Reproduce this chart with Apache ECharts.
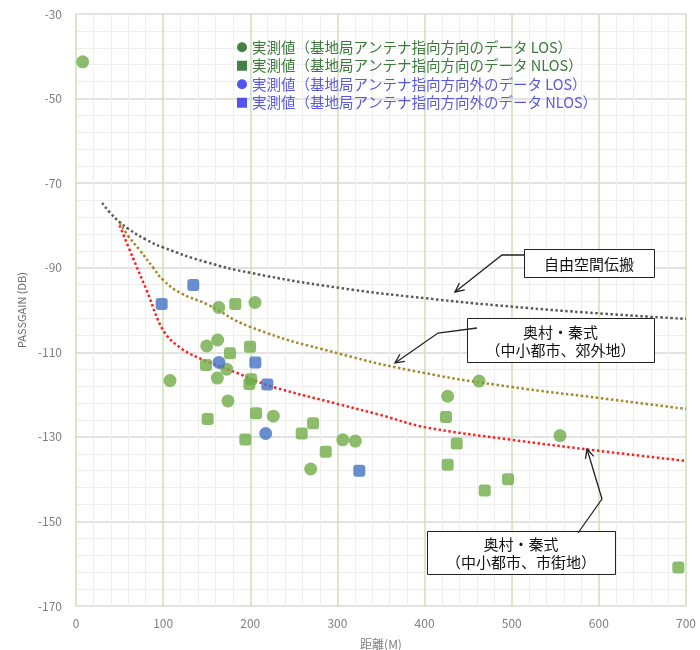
<!DOCTYPE html>
<html>
<head>
<meta charset="utf-8">
<script src="https://cdn.jsdelivr.net/npm/echarts@6/dist/echarts.min.js"></script>
<style>
  html, body { margin: 0; padding: 0; background: #fff; }
</style>
</head>
<body>
<div id="myChart" style="width: 700px; height: 650px;"></div>
<script>
  // 曲線（理論値）
  const freeDist = [30, 40, 50, 60, 80, 100, 150, 200, 300, 400, 500, 600, 700];
  const freeVal = [-74.7, -77.2, -79.2, -80.8, -83.3, -85.2, -88.7, -91.2, -94.7, -97.2, -99.2, -100.8, -102.1];

  const subDist = [50, 60, 73, 89, 100, 120, 150, 200, 300, 400, 500, 600, 700];
  const subVal = [-79.4, -82.5, -85.8, -90.1, -92.9, -96.0, -98.6, -104.0, -110.2, -114.9, -118.2, -120.8, -123.4];

  const urbDist = [50, 65, 81, 100, 120, 146, 185, 223, 300, 349, 400, 500, 600, 700];
  const urbVal = [-80.0, -87.5, -95.3, -104.8, -109.0, -111.8, -114.9, -118.0, -122.2, -124.8, -127.7, -130.7, -133.3, -135.7];

  // 実測値
  const gLosDist = [7.7, 163.8, 205.4, 150, 162.6, 172.9, 162.2, 107.9, 174.4, 226.4, 269.3, 306.1, 320.5, 462.5, 426.5, 555.4];
  const gLosVal = [-41.3, -99.4, -98.2, -108.5, -107.1, -114.0, -116.1, -116.7, -121.5, -125.1, -137.6, -130.7, -131.0, -116.8, -120.4, -129.7];

  const gNlosDist = [182.8, 199.7, 176.7, 149.2, 200.8, 198.9, 206.6, 151.1, 272, 259, 194.3, 286.6, 424.6, 436.9, 426.5, 495.8, 469, 691.2];
  const gNlosVal = [-98.6, -108.7, -110.2, -113.0, -116.4, -117.5, -124.4, -125.8, -126.8, -129.2, -130.6, -133.5, -125.3, -131.6, -136.6, -140.0, -142.7, -160.9];

  const bLosDist = [164.1, 217.7];
  const bLosVal = [-112.4, -129.2];

  const bNlosDist = [98.3, 134.6, 205.8, 219.5, 325.1];
  const bNlosVal = [-98.6, -94.1, -112.4, -117.6, -138.0];

  const names = [
    '実測値（基地局アンテナ指向方向のデータ LOS）',
    '実測値（基地局アンテナ指向方向のデータ NLOS）',
    '実測値（基地局アンテナ指向方向外のデータ LOS）',
    '実測値（基地局アンテナ指向方向外のデータ NLOS）'
  ];

  function pairs(xs, ys) {
    return xs.map((x, i) => [x, ys[i]]);
  }

  // 矢印（折れ線＋矢じり）
  function arrow(points) {
    const n = points.length;
    const [x1, y1] = points[n - 2];
    const [x2, y2] = points[n - 1];
    const a = Math.atan2(y2 - y1, x2 - x1);
    const len = 10, spread = 0.45;
    const head = [
      [x2 - len * Math.cos(a - spread), y2 - len * Math.sin(a - spread)],
      [x2, y2],
      [x2 - len * Math.cos(a + spread), y2 - len * Math.sin(a + spread)]
    ];
    const style = { stroke: '#222', lineWidth: 1.3, fill: null };
    return [
      { type: 'polyline', shape: { points: points }, style: style, z: 100 },
      { type: 'polyline', shape: { points: head }, style: style, z: 100 }
    ];
  }

  function box(x, y, w, h, text) {
    return [
      { type: 'rect', z: 100, shape: { x: x + 0.5, y: y + 0.5, width: w, height: h },
        style: { fill: '#fff', stroke: '#222', lineWidth: 1 } },
      { type: 'text', z: 101, x: x + w / 2, y: y + h / 2 + 1,
        style: { text: text, align: 'center', verticalAlign: 'middle',
                 fontSize: 15, lineHeight: 18, fill: '#111',
                 fontFamily: 'Noto Sans CJK JP' } }
    ];
  }

  function drawChart() {
    const myChart = echarts.init(document.getElementById('myChart'));
    const axisFont = { color: '#7f7f7f', fontSize: 12, fontFamily: 'Noto Sans CJK JP' };
    const dotted = (color) => ({ color: color, width: 2.5, type: [2.5, 2.5] });

    myChart.setOption({
      animation: false,
      textStyle: { fontFamily: 'Noto Sans CJK JP' },
      grid: { left: 76, right: 14, top: 14, bottom: 44, outerBoundsMode: 'none' },
      legend: {
        orient: 'vertical',
        left: 232,
        top: 35,
        itemWidth: 10,
        itemHeight: 10,
        itemGap: 4,
        textStyle: { fontSize: 14.5 },
        data: [
          { name: names[0], icon: 'circle', itemStyle: { color: '#156315' }, textStyle: { color: '#3b7a3b' } },
          { name: names[1], icon: 'rect', itemStyle: { color: '#156315' }, textStyle: { color: '#3b7a3b' } },
          { name: names[2], icon: 'circle', itemStyle: { color: '#2a2af0' }, textStyle: { color: '#5959e0' } },
          { name: names[3], icon: 'rect', itemStyle: { color: '#2a2af0' }, textStyle: { color: '#5959e0' } }
        ]
      },
      xAxis: {
        type: 'value',
        min: 0,
        max: 700,
        interval: 100,
        name: '距離(M)',
        nameLocation: 'middle',
        nameGap: 32,
        nameTextStyle: { color: '#7f7f7f', fontSize: 12 },
        axisLine: { show: false },
        axisTick: { show: false },
        axisLabel: Object.assign({ margin: 11 }, axisFont),
        splitLine: { show: true, lineStyle: { color: '#c9e2b8', width: 1.5 } },
        minorTick: { show: false, splitNumber: 5 },
        minorSplitLine: { show: true, lineStyle: { color: '#eeeeee', width: 1 } }
      },
      yAxis: {
        type: 'value',
        min: -170,
        max: -30,
        interval: 20,
        name: 'PASSGAIN (DB)',
        nameLocation: 'middle',
        nameGap: 46,
        nameTextStyle: { color: '#6f6f6f', fontSize: 11 },
        axisLine: { show: false },
        axisTick: { show: false },
        axisLabel: Object.assign({ margin: 14 }, axisFont),
        splitLine: { show: true, lineStyle: { color: '#d9d9d9', width: 1.5 } },
        minorTick: { show: false, splitNumber: 5 },
        minorSplitLine: { show: true, lineStyle: { color: '#eeeeee', width: 1 } }
      },
      series: [
        {
          name: '自由空間伝搬', type: 'line', data: pairs(freeDist, freeVal),
          smooth: 0.5, showSymbol: false, lineStyle: dotted('#5a5a5a'), z: 3
        },
        {
          name: '郊外地', type: 'line', data: pairs(subDist, subVal),
          smooth: 0.5, showSymbol: false, lineStyle: dotted('#a8862a'), z: 3
        },
        {
          name: '市街地', type: 'line', data: pairs(urbDist, urbVal),
          smooth: 0.35, showSymbol: false, lineStyle: dotted('#ff2020'), z: 3
        },
        {
          name: names[0], type: 'scatter', data: pairs(gLosDist, gLosVal),
          symbol: 'circle', symbolSize: 13, itemStyle: { color: '#70ad47' }, z: 5
        },
        {
          name: names[1], type: 'scatter', data: pairs(gNlosDist, gNlosVal),
          symbol: 'roundRect', symbolSize: 12, itemStyle: { color: '#70ad47' }, z: 5
        },
        {
          name: names[2], type: 'scatter', data: pairs(bLosDist, bLosVal),
          symbol: 'circle', symbolSize: 13, itemStyle: { color: '#4472c4' }, z: 5
        },
        {
          name: names[3], type: 'scatter', data: pairs(bNlosDist, bNlosVal),
          symbol: 'roundRect', symbolSize: 12, itemStyle: { color: '#4472c4' }, z: 5
        }
      ],
      graphic: []
        .concat(box(524, 249, 130, 28, '自由空間伝搬'))
        .concat(box(467, 318, 187, 44, '奥村・秦式\n（中小都市、郊外地）'))
        .concat(box(427, 531, 188, 43, '奥村・秦式\n（中小都市、市街地）'))
        .concat(arrow([[524, 255], [502, 255], [455, 292]]))
        .concat(arrow([[477, 328], [438, 333], [395, 363]]))
        .concat(arrow([[578, 533], [602, 499], [587, 449]]))
    });
  }

  drawChart();
</script>
</body>
</html>
